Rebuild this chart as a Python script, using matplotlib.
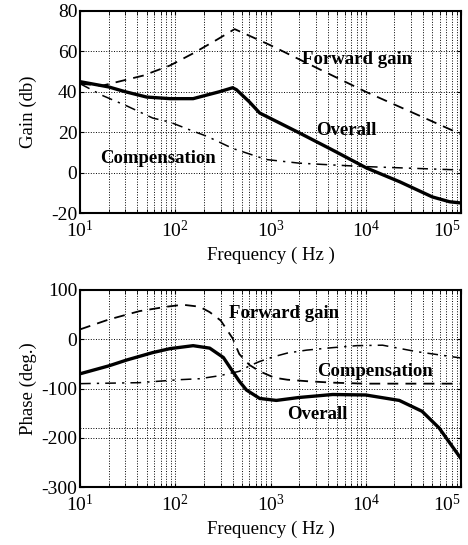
import matplotlib
matplotlib.use("Agg")
import matplotlib.pyplot as plt
from matplotlib.ticker import LogLocator, NullFormatter

plt.rcParams["font.family"] = ["Liberation Serif", "DejaVu Serif"]
plt.rcParams["mathtext.fontset"] = "custom"
plt.rcParams["mathtext.rm"] = "Liberation Serif"
plt.rcParams["axes.unicode_minus"] = False

# gain plot (dB)
gain_fwd_f = [10, 17, 46, 88, 154, 270, 420, 1000, 3000, 10000, 30000, 100000]
gain_fwd = [44, 43, 48, 53, 59, 65.6, 71, 63, 52, 40, 30, 19]

gain_comp_f = [10, 17.5, 31, 58, 88, 154, 215, 400, 900, 2000, 4500, 10000, 100000]
gain_comp = [44, 38, 33, 27, 25, 20.5, 18, 12, 6.5, 4.7, 3.8, 3, 1.3]

gain_all_f = [10, 20, 30, 50, 88, 154, 215, 290, 400, 440, 600, 770,
              2040, 4480, 10200, 22700, 50000, 76000, 100000]
gain_all = [45, 42.4, 40, 37.4, 36.6, 36.6, 38.4, 40, 42, 41, 35, 29.5,
            19.5, 11.2, 2.3, -4.5, -12, -14.4, -15]

# phase plot (deg.)
ph_fwd_f = [10, 20, 42, 81, 120, 180, 230, 300, 400, 470, 600, 770,
            1100, 1500, 2400, 4500, 10000, 100000]
ph_fwd = [20, 40, 57, 66, 70, 66, 55, 38, 2, -30, -52, -65,
          -78, -82, -85, -88, -90, -90]

ph_comp_f = [10, 42, 110, 180, 290, 470, 600, 770, 1100, 1500, 2400,
             4500, 8000, 15000, 34000, 100000]
ph_comp = [-90, -88, -82, -80, -74, -65, -54, -45, -35, -28, -22,
           -17, -13, -12, -25, -38]

ph_all_f = [10, 20, 31, 58, 88, 154, 230, 320, 400, 470, 560, 770, 1150,
            2000, 4500, 10000, 22500, 39000, 59000, 100000]
ph_all = [-70, -54, -42, -27, -19, -13, -18, -37, -65, -85, -103, -120, -124,
          -118, -112, -113, -124, -146, -180, -242]

phase_ref = -180

xticks = [1e1, 1e2, 1e3, 1e4, 1e5]
xticklabels = [r"$\mathregular{10^{%d}}$" % k for k in range(1, 6)]
gain_ticks = [80, 60, 40, 20, 0, -20]
phase_ticks = [100, 0, -100, -200, -300]


def style_axes(ax, yticks, ylabel):
    ax.set_xscale("log")
    ax.set_xlim(10, 1e5)
    ax.set_ylim(min(yticks), max(yticks))
    ax.set_yticks(yticks)
    ax.set_xticks(xticks)
    labels = ax.set_xticklabels(xticklabels)
    labels[-1].set_horizontalalignment("right")
    ax.xaxis.set_minor_locator(LogLocator(base=10, subs=range(2, 10)))
    ax.xaxis.set_minor_formatter(NullFormatter())
    ax.grid(True, which="both", axis="x", linestyle=":", color="k", lw=0.7)
    ax.grid(True, which="major", axis="y", linestyle=":", color="k", lw=0.7)
    ax.tick_params(which="both", direction="in", top=True, right=True,
                   labelsize=14, length=3)
    ax.tick_params(axis="x", pad=5)
    ax.tick_params(axis="y", pad=2)
    for sp in ax.spines.values():
        sp.set_linewidth(1.5)
    ax.set_ylabel(ylabel, fontsize=13.5)
    ax.yaxis.set_label_coords(-0.113, 0.5)
    ax.set_xlabel("Frequency ( Hz )", fontsize=13.5, labelpad=4)


fig = plt.figure(figsize=(4.68, 5.45), dpi=100)
ax1 = fig.add_axes([0.171, 0.609, 0.814, 0.371])
ax2 = fig.add_axes([0.171, 0.106, 0.814, 0.362])

ax1.plot(gain_fwd_f, gain_fwd, "k--", lw=1.3, dashes=(6, 4))
ax1.plot(gain_comp_f, gain_comp, "k-.", lw=1.1, dashes=(7, 4, 1.5, 4))
ax1.plot(gain_all_f, gain_all, "k-", lw=2.4)
style_axes(ax1, gain_ticks, "Gain (db)")
ax1.text(8100, 56, "Forward gain", fontsize=13.5, fontweight="bold",
         ha="center", va="center")
ax1.text(6300, 21, "Overall", fontsize=13.5, fontweight="bold",
         ha="center", va="center")
ax1.text(66, 7, "Compensation", fontsize=13.5, fontweight="bold",
         ha="center", va="center")

ax2.plot(ph_fwd_f, ph_fwd, "k--", lw=1.3, dashes=(6, 4))
ax2.plot(ph_comp_f, ph_comp, "k-.", lw=1.1, dashes=(7, 4, 1.5, 4))
ax2.plot(ph_all_f, ph_all, "k-", lw=2.4)
ax2.axhline(phase_ref, color="k", linestyle=":", lw=0.7)
style_axes(ax2, phase_ticks, "Phase (deg.)")
ax2.text(1380, 52, "Forward gain", fontsize=13.5, fontweight="bold",
         ha="center", va="center")
ax2.text(12500, -65, "Compensation", fontsize=13.5, fontweight="bold",
         ha="center", va="center")
ax2.text(3070, -153, "Overall", fontsize=13.5, fontweight="bold",
         ha="center", va="center")

fig.savefig("out.png", dpi=100)
